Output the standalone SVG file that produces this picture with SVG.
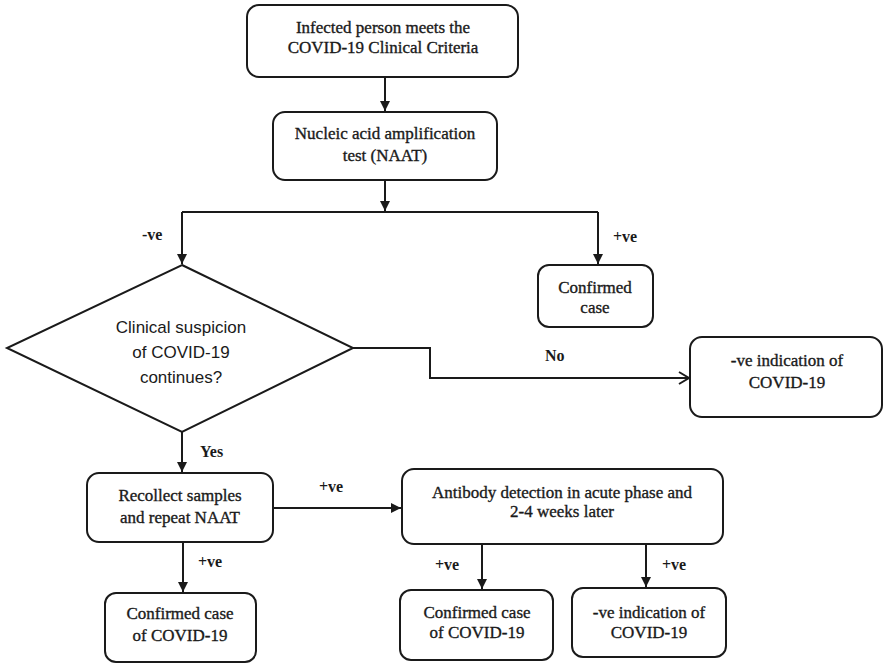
<svg xmlns="http://www.w3.org/2000/svg" width="883" height="664" viewBox="0 0 883 664">
  <style>
    .box { fill: #ffffff; stroke: #1a1a1a; stroke-width: 2; }
    .txt { font-family: "Liberation Serif", "Times New Roman", serif; font-size: 17px; fill: #1a1a1a; stroke: #1a1a1a; stroke-width: 0.35; text-anchor: middle; }
    .sans { font-family: "Liberation Sans", Arial, sans-serif; font-size: 17px; fill: #1a1a1a; text-anchor: middle; }
    .lbl { font-family: "Liberation Serif", "Times New Roman", serif; font-size: 16px; font-weight: bold; fill: #1a1a1a; }
    .wire { fill: none; stroke: #1a1a1a; stroke-width: 2; }
  </style>
  <defs>
    <marker id="arrow" markerUnits="userSpaceOnUse" markerWidth="12" markerHeight="12" viewBox="0 0 12 12" refX="11" refY="6" orient="auto">
      <path d="M1,1 L11,6 L1,11 Z" fill="#1a1a1a"/>
    </marker>
    <marker id="open" markerUnits="userSpaceOnUse" markerWidth="14" markerHeight="14" viewBox="0 0 14 14" refX="12" refY="7" orient="auto">
      <path d="M2,1 L12,7 L2,13" fill="none" stroke="#1a1a1a" stroke-width="2"/>
    </marker>
  </defs>

  <!-- connectors -->
  <g id="connectors">
    <path class="wire" d="M385,77 L385,111" marker-end="url(#arrow)"/>
    <path class="wire" d="M385,180 L385,211" marker-end="url(#arrow)"/>
    <path class="wire" d="M182,212 L598,212"/>
    <path class="wire" d="M182,212 L182,264" marker-end="url(#arrow)"/>
    <path class="wire" d="M598,212 L598,264" marker-end="url(#arrow)"/>
    <path class="wire" d="M353,348 L430,348 L430,378 L689,378" marker-end="url(#open)"/>
    <path class="wire" d="M182,432 L182,472" marker-end="url(#arrow)"/>
    <path class="wire" d="M273,508 L401,508" marker-end="url(#arrow)"/>
    <path class="wire" d="M183,542 L183,592" marker-end="url(#arrow)"/>
    <path class="wire" d="M482,544 L482,589" marker-end="url(#arrow)"/>
    <path class="wire" d="M646,544 L646,587" marker-end="url(#arrow)"/>
    <text class="lbl" x="142" y="240">-ve</text>
    <text class="lbl" x="613" y="242">+ve</text>
    <text class="lbl" x="545" y="361">No</text>
    <text class="lbl" x="200" y="457">Yes</text>
    <text class="lbl" x="319" y="492">+ve</text>
    <text class="lbl" x="198" y="567">+ve</text>
    <text class="lbl" x="435" y="570">+ve</text>
    <text class="lbl" x="662" y="570">+ve</text>
  </g>

  <g id="start">
    <rect class="box" x="247" y="5" width="271" height="72" rx="12"/>
    <text class="txt" x="383" y="33">Infected person meets the</text>
    <text class="txt" x="383" y="53">COVID-19 Clinical Criteria</text>
  </g>

  <g id="naat">
    <rect class="box" x="273" y="112" width="224" height="68" rx="12"/>
    <text class="txt" x="385" y="139">Nucleic acid amplification</text>
    <text class="txt" x="385" y="161">test (NAAT)</text>
  </g>

  <g id="confirmed-case">
    <rect class="box" x="538" y="265" width="115" height="62" rx="11"/>
    <text class="txt" x="595" y="293">Confirmed</text>
    <text class="txt" x="595" y="313">case</text>
  </g>

  <g id="suspicion">
    <polygon class="box" points="182,265 353,348 182,432 7,348"/>
    <text class="sans" x="181" y="333">Clinical suspicion</text>
    <text class="sans" x="181" y="358">of COVID-19</text>
    <text class="sans" x="181" y="383">continues?</text>
  </g>

  <g id="negative-indication">
    <rect class="box" x="690" y="337" width="192" height="80" rx="12"/>
    <text class="txt" x="787" y="366">-ve indication of</text>
    <text class="txt" x="787" y="388">COVID-19</text>
  </g>

  <g id="recollect">
    <rect class="box" x="87" y="473" width="186" height="69" rx="12"/>
    <text class="txt" x="180" y="501">Recollect samples</text>
    <text class="txt" x="180" y="523">and repeat NAAT</text>
  </g>

  <g id="antibody">
    <rect class="box" x="402" y="469" width="321" height="75" rx="12"/>
    <text class="txt" x="562" y="498">Antibody detection in acute phase and</text>
    <text class="txt" x="562" y="517">2-4 weeks later</text>
  </g>

  <g id="confirmed-naat">
    <rect class="box" x="105" y="593" width="151" height="69" rx="11"/>
    <text class="txt" x="180" y="619">Confirmed case</text>
    <text class="txt" x="180" y="641">of COVID-19</text>
  </g>

  <g id="confirmed-antibody">
    <rect class="box" x="400" y="590" width="153" height="70" rx="11"/>
    <text class="txt" x="477" y="618">Confirmed case</text>
    <text class="txt" x="477" y="638">of COVID-19</text>
  </g>

  <g id="negative-antibody">
    <rect class="box" x="572" y="588" width="154" height="69" rx="11"/>
    <text class="txt" x="649" y="618">-ve indication of</text>
    <text class="txt" x="649" y="638">COVID-19</text>
  </g>
</svg>
